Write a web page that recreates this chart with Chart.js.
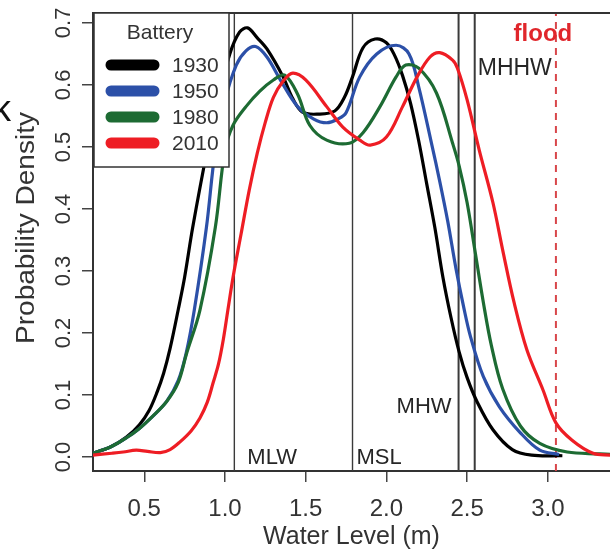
<!DOCTYPE html>
<html><head><meta charset="utf-8">
<script src="https://cdn.jsdelivr.net/npm/chart.js@4/dist/chart.umd.min.js"></script>
<style>html,body{margin:0;padding:0;background:#fff;overflow:hidden}</style>
</head><body>
<canvas id="c" width="610" height="550"></canvas>
<script>
// ---- data ----
const seriesLabels = ['1930', '1950', '1980', '2010'];
const seriesColors = ['#000000', '#2c50a8', '#1d6b33', '#ee1d24'];

const x1930 = [0.18,0.29,0.39,0.47,0.53,0.58,0.62,0.66,0.71,0.75,0.80,0.89,0.96,1.03,1.09,1.14,1.20,1.26,1.36,1.42,1.48,1.58,1.68,1.74,1.79,1.855,1.93,2.0,2.05,2.1,2.15,2.2,2.25,2.3,2.35,2.4,2.45,2.5,2.56,2.66,2.78,2.9,3.09];
const y1930 = [0.006,0.016,0.032,0.052,0.075,0.105,0.135,0.175,0.237,0.29,0.37,0.495,0.58,0.65,0.685,0.692,0.676,0.658,0.613,0.578,0.556,0.553,0.558,0.58,0.613,0.66,0.674,0.668,0.648,0.615,0.57,0.51,0.44,0.37,0.29,0.225,0.17,0.128,0.09,0.044,0.012,0.003,0.002];

const x1950 = [0.18,0.29,0.39,0.47,0.55,0.64,0.71,0.76,0.81,0.885,0.94,1.0,1.07,1.13,1.19,1.26,1.35,1.45,1.55,1.63,1.7,1.75,1.835,1.94,2.06,2.14,2.2,2.28,2.33,2.38,2.43,2.48,2.52,2.6,2.7,2.83,2.95,3.07];
const y1950 = [0.006,0.016,0.031,0.046,0.065,0.09,0.123,0.168,0.237,0.37,0.495,0.575,0.632,0.655,0.662,0.645,0.605,0.565,0.545,0.539,0.545,0.555,0.613,0.65,0.664,0.65,0.597,0.505,0.445,0.38,0.305,0.24,0.195,0.13,0.081,0.039,0.011,0.004];

const x1980 = [0.18,0.29,0.39,0.47,0.55,0.64,0.71,0.76,0.845,0.94,1.0,1.05,1.13,1.216,1.3,1.37,1.45,1.525,1.63,1.77,1.855,1.96,2.06,2.12,2.2,2.31,2.41,2.45,2.5,2.55,2.6,2.65,2.72,2.83,2.95,3.12,3.32,3.39];
const y1980 = [0.006,0.016,0.031,0.046,0.065,0.09,0.12,0.165,0.237,0.37,0.495,0.535,0.565,0.59,0.608,0.616,0.585,0.535,0.511,0.506,0.523,0.565,0.613,0.632,0.627,0.587,0.506,0.47,0.41,0.33,0.25,0.18,0.11,0.05,0.022,0.008,0.005,0.004];

const x2010 = [0.18,0.3,0.37,0.45,0.52,0.6,0.66,0.72,0.79,0.845,0.89,0.927,0.96,0.99,1.018,1.05,1.1,1.15,1.2,1.25,1.3,1.36,1.42,1.5,1.63,1.73,1.835,1.9,2.0,2.1,2.19,2.27,2.33,2.41,2.44,2.5,2.575,2.66,2.72,2.79,2.87,2.97,3.05,3.15,3.28,3.39];
const y2010 = [0.003,0.006,0.008,0.011,0.009,0.007,0.012,0.024,0.042,0.063,0.088,0.12,0.15,0.19,0.237,0.29,0.36,0.43,0.49,0.54,0.58,0.606,0.619,0.608,0.565,0.532,0.511,0.503,0.516,0.565,0.613,0.645,0.652,0.64,0.627,0.576,0.495,0.41,0.334,0.25,0.173,0.108,0.055,0.027,0.006,0.003];

const xTicks = [0.5, 1.0, 1.5, 2.0, 2.5, 3.0];
const yTicks = [0.0, 0.1, 0.2, 0.3, 0.4, 0.5, 0.6, 0.7];
const refLevels = [1.058, 1.79, 2.447, 2.547];
const refNames = ['MLW', 'MSL', 'MHW', 'MHHW'];
const floodLevel = 3.05;
const floodName = 'flood';
const legendTitle = 'Battery';
const xTitle = 'Water Level (m)';
const yTitle = 'Probability Density';

const X_MIN = 0.1825, X_MAX = 3.385, Y_MIN = -0.0226, Y_MAX = 0.716;
const FONT = '"Liberation Sans", Arial, Helvetica, sans-serif';

const xs = [x1930, x1950, x1980, x2010];
const ys = [y1930, y1950, y1980, y2010];

const datasets = [];
seriesLabels.forEach((lab, i) => {
  datasets.push({
    label: lab,
    data: xs[i].map((x, j) => ({ x: x, y: ys[i][j] })),
    borderColor: seriesColors[i],
    borderWidth: 3.2,
    pointRadius: 0,
    fill: false,
    tension: 0.35,
    order: 4 - i,
    isSeries: true
  });
});
refLevels.forEach((v, i) => {
  datasets.push({
    label: refNames[i],
    data: [{ x: v, y: Y_MIN }, { x: v, y: Y_MAX }],
    borderColor: '#3a3a3a',
    borderWidth: i >= 2 ? 2 : 1.4,
    pointRadius: 0,
    fill: false,
    order: 10
  });
});
datasets.push({
  label: floodName,
  data: [{ x: floodLevel, y: Y_MIN }, { x: floodLevel, y: Y_MAX }],
  borderColor: '#d8464a',
  borderWidth: 2,
  borderDash: [7, 6],
  pointRadius: 0,
  fill: false,
  order: 11
});

const decor = {
  id: 'decor',
  afterDatasetsDraw(chart) {
    const ctx = chart.ctx, ca = chart.chartArea;
    const sx = chart.scales.x, sy = chart.scales.y;
    ctx.save();
    // top frame line
    ctx.strokeStyle = '#333'; ctx.lineWidth = 2;
    ctx.beginPath(); ctx.moveTo(ca.left - 1, ca.top); ctx.lineTo(ca.right + 2, ca.top); ctx.stroke();

    // reference labels
    ctx.fillStyle = '#262626';
    ctx.textBaseline = 'middle';
    ctx.font = '22px ' + FONT;
    ctx.textAlign = 'left';
    ctx.fillText(refNames[0], sx.getPixelForValue(refLevels[0]) + 13, sy.getPixelForValue(0.0) + 1);
    ctx.fillText(refNames[1], sx.getPixelForValue(refLevels[1]) + 4, sy.getPixelForValue(0.0) + 1);
    ctx.textAlign = 'right';
    ctx.fillText(refNames[2], sx.getPixelForValue(refLevels[2]) - 7, sy.getPixelForValue(0.081));
    ctx.textAlign = 'left';
    ctx.font = '23px ' + FONT;
    ctx.fillText(refNames[3], sx.getPixelForValue(refLevels[3]) + 3, sy.getPixelForValue(0.626));
    ctx.fillStyle = '#e0262b';
    ctx.font = 'bold 24px ' + FONT;
    ctx.textAlign = 'center';
    ctx.fillText(floodName, sx.getPixelForValue(floodLevel) - 13, sy.getPixelForValue(0.682));

    // legend box
    const L = ca.left + 1, T = ca.top, W = 135, H = 154;
    ctx.fillStyle = '#fff';
    ctx.fillRect(L, T, W, H);
    ctx.strokeStyle = '#333'; ctx.lineWidth = 1.5;
    ctx.strokeRect(L, T, W, H);
    ctx.fillStyle = '#333';
    ctx.font = '21px ' + FONT;
    ctx.textAlign = 'center';
    ctx.fillText(legendTitle, L + 66, T + 20);
    ctx.textAlign = 'left';
    chart.data.datasets.filter(d => d.isSeries).forEach((d, i) => {
      const yy = T + 52 + i * 26;
      ctx.strokeStyle = d.borderColor; ctx.lineWidth = 11; ctx.lineCap = 'round';
      ctx.beginPath(); ctx.moveTo(L + 17, yy); ctx.lineTo(L + 60, yy); ctx.stroke();
      ctx.fillStyle = '#333';
      ctx.fillText(d.label, L + 78, yy + 1);
    });

    // rotated y tick labels
    ctx.font = '22px ' + FONT;
    ctx.fillStyle = '#333';
    ctx.textAlign = 'center';
    ctx.textBaseline = 'middle';
    yTicks.forEach(v => {
      ctx.save();
      ctx.translate(63, sy.getPixelForValue(v));
      ctx.rotate(-Math.PI / 2);
      ctx.fillText(v.toFixed(1), 0, 1);
      ctx.restore();
    });
    // y axis title
    ctx.save();
    ctx.translate(27, 228);
    ctx.rotate(-Math.PI / 2);
    ctx.scale(1.12, 1);
    ctx.font = '25px ' + FONT;
    ctx.fillText(yTitle, 0, 0);
    ctx.restore();
    // clipped letter at the far left
    ctx.fillStyle = '#111';
    ctx.font = '36px ' + FONT;
    ctx.textAlign = 'left';
    ctx.textBaseline = 'alphabetic';
    ctx.fillText('k', -7, 121);
    ctx.restore();
  }
};

new Chart(document.getElementById('c'), {
  type: 'line',
  data: { datasets: datasets },
  options: {
    responsive: false,
    animation: false,
    devicePixelRatio: 1,
    layout: { padding: { top: 13, left: 0, right: 0, bottom: 0 } },
    plugins: { legend: { display: false }, tooltip: { enabled: false } },
    scales: {
      x: {
        type: 'linear', min: X_MIN, max: X_MAX,
        afterBuildTicks: s => { s.ticks = xTicks.map(v => ({ value: v })); },
        afterFit: s => { s.height = 79; },
        grid: { drawOnChartArea: false, drawTicks: true, tickLength: 11, color: '#444', lineWidth: 1.5 },
        border: { display: true, color: '#333', width: 2 },
        ticks: {
          autoSkip: false, maxRotation: 0, minRotation: 0,
          color: '#333', padding: 13,
          font: { family: FONT, size: 24 },
          callback: v => Number(v).toFixed(1)
        },
        title: { display: true, text: xTitle, color: '#333', font: { family: FONT, size: 25, lineHeight: 1 }, padding: { top: 0, bottom: 0 } }
      },
      y: {
        type: 'linear', min: Y_MIN, max: Y_MAX,
        afterBuildTicks: s => { s.ticks = yTicks.map(v => ({ value: v })); },
        afterFit: s => { s.width = 93; },
        grid: { drawOnChartArea: false, drawTicks: true, tickLength: 11, color: '#444', lineWidth: 1.5 },
        border: { display: true, color: '#333', width: 2 },
        ticks: { display: false }
      }
    }
  },
  plugins: [decor]
});
</script>
</body></html>
